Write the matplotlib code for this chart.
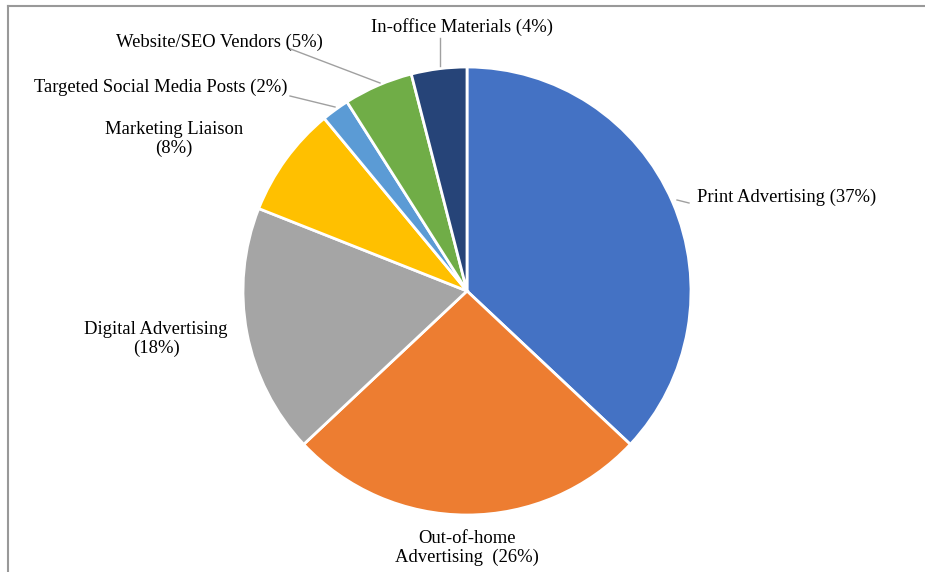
"""Pie chart of marketing budget shares by channel."""
import matplotlib
matplotlib.use("Agg")
from matplotlib import pyplot as plt
from matplotlib.lines import Line2D

# data, clockwise from 12 o'clock
channels = ["Print Advertising", "Out-of-home Advertising", "Digital Advertising",
            "Marketing Liaison", "Targeted Social Media Posts",
            "Website/SEO Vendors", "In-office Materials"]
shares = [37, 26, 18, 8, 2, 5, 4]
labels = ["Print Advertising (37%)", "Out-of-home\nAdvertising  (26%)",
          "Digital Advertising\n(18%)", "Marketing Liaison\n(8%)",
          "Targeted Social Media Posts (2%)", "Website/SEO Vendors (5%)",
          "In-office Materials (4%)"]
colors = ["#4472C4", "#ED7D31", "#A5A5A5", "#FFC000", "#5B9BD5", "#70AD47", "#264478"]

# label layout in pixels relative to pie centre (x right, y up)
cx, cy = 467, 291
label_pos = [(697, 197, "left"), (467, 548, "center"), (156, 339, "center"),
             (174, 139, "center"), (287, 87, "right"), (323, 42, "right"),
             (462, 27, "center")]
leaders = {0: ((677, 200), (689, 203)), 4: ((335, 107), (290, 96)),
           5: ((380, 83), (288, 48)), 6: ((440, 66), (440, 38))}

plt.rcParams["font.family"] = ["Liberation Serif", "DejaVu Serif"]

fig = plt.figure(figsize=(9.25, 5.72), dpi=100)
ax = fig.add_axes([0, 0, 1, 1])

ax.pie(shares, colors=colors, startangle=90, counterclock=False, radius=224,
       center=(0, 0), wedgeprops={"edgecolor": "white", "linewidth": 2})
ax.set_xlim(-cx, 925 - cx)
ax.set_ylim(-(572 - cy), cy)
ax.set_aspect("equal")
ax.axis("off")

for i, text in enumerate(labels):
    px, py, ha = label_pos[i]
    ax.text(px - cx, cy - py, text, ha=ha, va="center", fontsize=13.4,
            linespacing=1.12, color="black")
    if i in leaders:
        (x0, y0), (x1, y1) = leaders[i]
        ax.plot([x0 - cx, x1 - cx], [cy - y0, cy - y1], color="#a0a0a0", lw=1)

# thin frame on the top and left edges
fig.add_artist(Line2D([8 / 925, 1], [1 - 6 / 572, 1 - 6 / 572],
                      transform=fig.transFigure, color="#999999", lw=1.5))
fig.add_artist(Line2D([8 / 925, 8 / 925], [0, 1 - 6 / 572],
                      transform=fig.transFigure, color="#999999", lw=1.5))

fig.savefig("out.png", dpi=100)
